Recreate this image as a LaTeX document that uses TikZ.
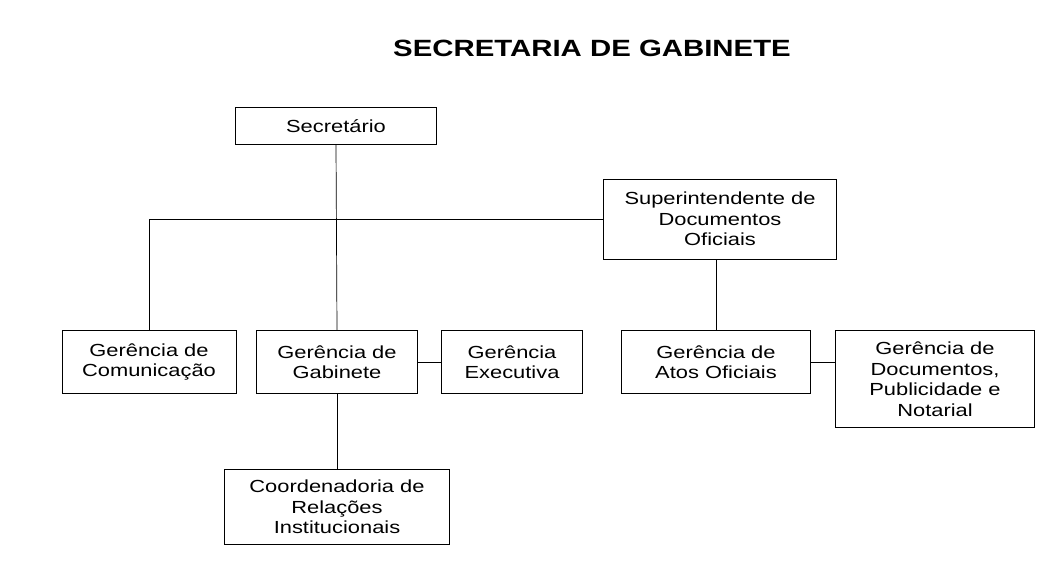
\documentclass[tikz,border=0pt]{standalone}
\usepackage{fontspec}
\setmainfont{Liberation Sans}
\newfontfamily\widesans[FakeStretch=1.25]{Liberation Sans}
\usetikzlibrary{positioning}
\tikzset{
    unit/.style={draw, line width=0.9pt, align=center, inner sep=2pt,
        font=\widesans\fontsize{17.5}{20.5}\selectfont},
    link/.style={draw, line width=0.7pt}
}
\begin{document}
\begin{tikzpicture}[x=1pt, y=-1pt]
    \useasboundingbox (0,0) rectangle (1058,560);
    \node (title) at (592,48) {\widesans\fontsize{23.5}{26}\selectfont\bfseries SECRETARIA DE GABINETE};
    \node[unit, minimum width=201pt, minimum height=37pt] (sec) at (336,126) {Secretário};
    \node[unit, minimum width=233pt, minimum height=80pt] (sup) at (720,219) {Superintendente de\\Documentos\\Oficiais};
    \node[unit, minimum width=174pt, minimum height=63pt] (com) at (149,362) {Gerência de\\Comunicação};
    \node[unit, minimum width=161pt, minimum height=63pt] (gab) at (337,362) {Gerência de\\Gabinete};
    \node[unit, minimum width=141pt, minimum height=63pt] (exe) at (512,362) {Gerência\\Executiva};
    \node[unit, minimum width=189pt, minimum height=63pt] (atos) at (716,362) {Gerência de\\Atos Oficiais};
    \node[unit, minimum width=199pt, minimum height=97pt] (doc) at (935,379) {Gerência de\\Documentos,\\Publicidade e\\Notarial};
    \node[unit, minimum width=225pt, minimum height=75pt] (coord) at (337,507) {Coordenadoria de\\Relações\\Institucionais};
    % connectors
    \draw[link] (sec.south) -- (gab.north);
    \draw[link] (sup.west) -| (com.north);
    \draw[link] (sup.south -| atos.north) -- (atos.north);
    \draw[link] (gab.east) -- (exe.west);
    \draw[link] (atos.east) -- (atos.east -| doc.west);
    \draw[link] (gab.south) -- (coord.north);
\end{tikzpicture}
\end{document}
